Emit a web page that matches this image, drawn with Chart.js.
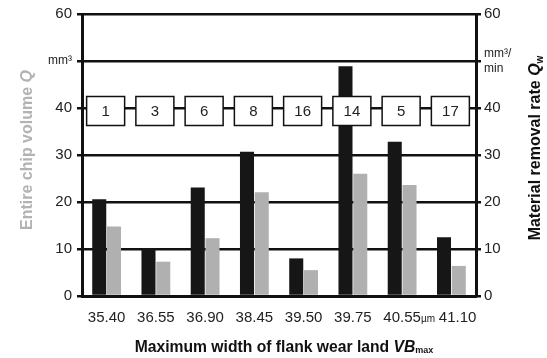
<!DOCTYPE html>
<html>
<head>
<meta charset="utf-8">
<script src="https://cdn.jsdelivr.net/npm/chart.js@4"></script>
<style>
  html, body { margin: 0; padding: 0; background: #fff; }
  #wrap { width: 547px; height: 358px; }
</style>
</head>
<body>
<div id="wrap"><canvas id="chart" width="547" height="358"></canvas></div>
<script>
// Data
const wearLand = ['35.40', '36.55', '36.90', '38.45', '39.50', '39.75', '40.55', '41.10'];
const removalRate = [20.6, 10.2, 23.1, 30.7, 8.0, 48.9, 32.8, 12.5];   // black, right axis
const chipVolume = [14.8, 7.3, 12.3, 22.1, 5.5, 26.0, 23.6, 6.4];      // gray, left axis
const sequence = ['1', '3', '6', '8', '16', '14', '5', '17'];
const yTicks = [0, 10, 20, 30, 40, 50, 60];

const FONT = "'Liberation Sans', Arial, sans-serif";
const INK = '#111';

// boxes with the machining sequence at the 40 level, plus axis titles
const overlay = {
    id: 'overlay',
    afterDatasetsDraw(chart) {
        const { ctx, scales: { x, y } } = chart;
        const y40 = y.getPixelForValue(40);
        ctx.save();
        ctx.font = '15px ' + FONT;
        ctx.textAlign = 'center';
        ctx.textBaseline = 'middle';
        sequence.forEach((s, i) => {
            const cx = x.getPixelForValue(i) - 1;
            const cy = y40 + 3;
            ctx.fillStyle = '#fff';
            ctx.fillRect(cx - 19, cy - 14.5, 38, 29);
            ctx.strokeStyle = INK;
            ctx.lineWidth = 1.5;
            ctx.strokeRect(cx - 19, cy - 14.5, 38, 29);
            ctx.fillStyle = '#222';
            ctx.fillText(s, cx, cy + 1);
        });
        ctx.restore();
    },
    afterDraw(chart) {
        const { ctx } = chart;
        ctx.save();

        // unit on the x axis
        ctx.font = '10px ' + FONT;
        ctx.fillStyle = '#222';
        ctx.textBaseline = 'alphabetic';
        ctx.textAlign = 'left';
        ctx.fillText('\u00b5m', 421, 322);

        // pieces: [text, font, dy]
        function drawRich(parts, cx, cy, angle) {
            ctx.save();
            ctx.translate(cx, cy);
            ctx.rotate(angle);
            let total = 0;
            parts.forEach(p => { ctx.font = p[1]; total += ctx.measureText(p[0]).width; });
            let px = -total / 2;
            ctx.textAlign = 'left';
            ctx.textBaseline = 'middle';
            parts.forEach(p => {
                ctx.font = p[1];
                ctx.fillText(p[0], px, p[2] || 0);
                px += ctx.measureText(p[0]).width;
            });
            ctx.restore();
        }

        ctx.fillStyle = '#b3b3b3';
        drawRich([
            ['Entire chip volume ', 'bold 16px ' + FONT],
            ['Q', 'italic bold 16px ' + FONT]
        ], 28, 150, -Math.PI / 2);

        ctx.fillStyle = '#111';
        drawRich([
            ['Material removal rate', 'bold 16px ' + FONT],
            [' Q', 'italic bold 16px ' + FONT],
            ['w', 'bold 10px ' + FONT, 4]
        ], 536, 148, -Math.PI / 2);

        drawRich([
            ['Maximum width of flank wear land ', 'bold 15.7px ' + FONT],
            ['VB', 'italic bold 15.7px ' + FONT],
            ['max', 'bold 9px ' + FONT, 3]
        ], 284, 348, 0);

        ctx.restore();
    }
};

new Chart(document.getElementById('chart').getContext('2d'), {
    type: 'bar',
    data: {
        labels: wearLand,
        datasets: [
            {
                label: 'Material removal rate',
                data: removalRate,
                backgroundColor: '#161616',
                yAxisID: 'yR',
                categoryPercentage: 0.6,
                barPercentage: 0.95
            },
            {
                label: 'Entire chip volume',
                data: chipVolume,
                backgroundColor: '#b0b0b0',
                yAxisID: 'y',
                categoryPercentage: 0.6,
                barPercentage: 0.95
            }
        ]
    },
    options: {
        responsive: false,
        animation: false,
        layout: { padding: { top: 14, left: 0, right: 0, bottom: 0 } },
        plugins: {
            legend: { display: false },
            tooltip: { enabled: false }
        },
        scales: {
            x: {
                grid: { display: false, drawTicks: false },
                border: { display: true, color: INK, width: 3 },
                ticks: {
                    padding: 13,
                    color: '#222',
                    font: { family: FONT, size: 15 },
                    maxRotation: 0,
                    autoSkip: false,
                    callback: (v, i) => (i === wearLand.length - 1 ? '   ' : '') + wearLand[i]
                },
                afterFit: s => { s.height = 62; }
            },
            y: {
                position: 'left',
                min: 0,
                max: 60,
                afterBuildTicks: s => { s.ticks = yTicks.map(v => ({ value: v })); },
                grid: {
                    color: INK,
                    lineWidth: 2.5,
                    tickLength: 5,
                    drawTicks: true
                },
                border: { display: true, color: INK, width: 3 },
                ticks: {
                    padding: 5,
                    color: '#222',
                    font: c => ({ family: FONT, size: c.tick && c.tick.value === 50 ? 12 : 15 }),
                    callback: v => (v === 50 ? 'mm\u00b3' : v)
                },
                afterFit: s => { s.width = 82; }
            },
            yR: {
                position: 'right',
                min: 0,
                max: 60,
                afterBuildTicks: s => { s.ticks = yTicks.map(v => ({ value: v })); },
                grid: {
                    drawOnChartArea: false,
                    color: INK,
                    lineWidth: 2.5,
                    tickLength: 5,
                    drawTicks: true
                },
                border: { display: true, color: INK, width: 3 },
                ticks: {
                    padding: 3,
                    color: '#222',
                    font: c => ({ family: FONT, size: c.tick && c.tick.value === 50 ? 12 : 15 }),
                    callback: v => (v === 50 ? ['mm\u00b3/', 'min'] : v)
                },
                afterFit: s => { s.width = 71; }
            }
        }
    },
    plugins: [overlay]
});
</script>
</body>
</html>
